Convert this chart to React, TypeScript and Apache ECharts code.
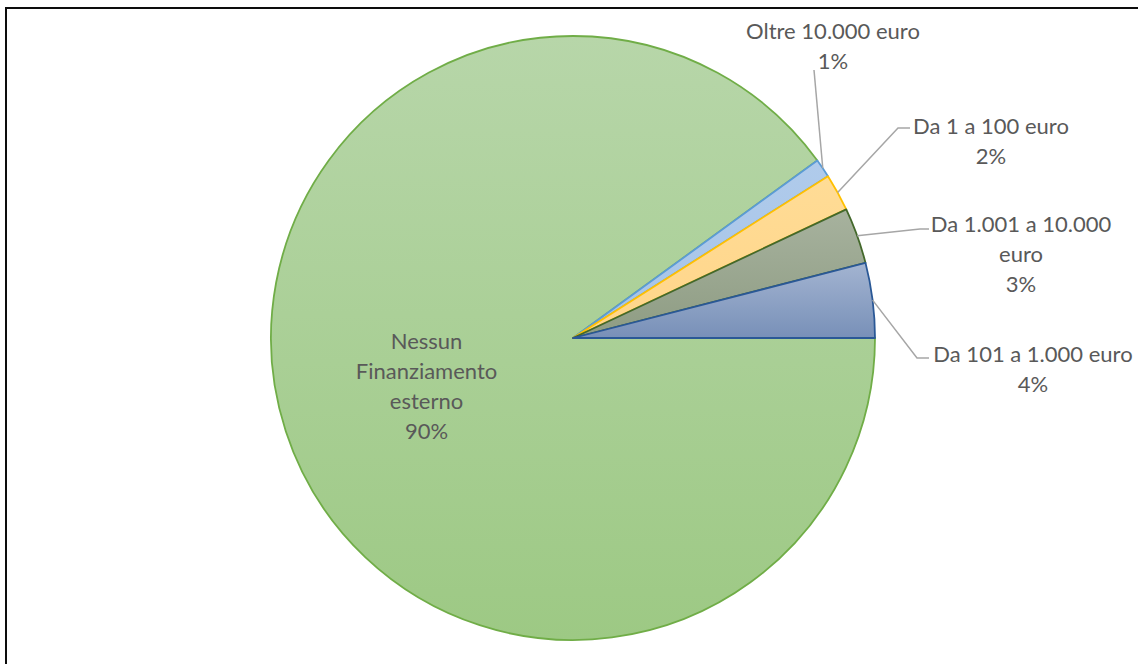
import React, { useEffect, useRef } from "react";
import * as echarts from "echarts";

// Data (clockwise from 3 o'clock)
const categories = [
  "Nessun Finanziamento esterno",
  "Oltre 10.000 euro",
  "Da 1 a 100 euro",
  "Da 1.001 a 10.000 euro",
  "Da 101 a 1.000 euro",
];
const values = [90, 1, 2, 3, 4];
const labelText = [
  "Nessun\nFinanziamento\nesterno",
  "Oltre 10.000 euro",
  "Da 1 a 100 euro",
  "Da 1.001 a 10.000\neuro",
  "Da 101 a 1.000 euro",
];

// Styles
const fillTop = ["#b7d6a9", "#b0cbeb", "#ffdc96", "#a7b29e", "#a3b4d1"];
const fillBottom = ["#9dc984", "#a6c4e8", "#ffd589", "#8e9c83", "#7890b8"];
const borders = ["#70ad47", "#5b9bd5", "#ffc000", "#43682b", "#2a5896"];

// Layout
const CX = 573;
const CY = 338;
const R = 302;
const FONT_SIZE = 22;
const FONT_FAMILY = 'Lato, "Noto Sans", sans-serif';
const TEXT_COLOR = "#595959";
const LINE_H = 30;
// outside label anchors (center of text block) and leader bends, for slices 1..4
const outLabels: Record<number, { x: number; y: number; bend: [number, number] | null; end: [number, number] }> = {
  1: { x: 833, y: 45, bend: null, end: [814, 70] },
  2: { x: 991, y: 140, bend: [898, 128], end: [910, 128] },
  3: { x: 1021, y: 253, bend: [920, 229], end: [929, 229] },
  4: { x: 1033, y: 368, bend: [917, 358], end: [929, 358] },
};

export default function App() {
  const ref = useRef<HTMLDivElement>(null);
  useEffect(() => {
    if (!ref.current) return;
    const chart = echarts.init(ref.current, null, { renderer: "svg" });
    const total = values.reduce((a, b) => a + b, 0);

    const graphics: any[] = [
      {
        type: "rect",
        shape: { x: 6, y: 8, width: 1300, height: 800 },
        style: { fill: "none", stroke: "#0d0d0d", lineWidth: 2 },
        z: 100,
      },
    ];

    let cum = 0;
    values.forEach((v, i) => {
      const midFrac = (cum + v / 2) / total;
      cum += v;
      const cfg = outLabels[i];
      if (!cfg) return;
      // clockwise from 3 o'clock
      const ang = midFrac * 2 * Math.PI;
      const sx = CX + R * Math.cos(ang);
      const sy = CY + R * Math.sin(ang);
      const pts: number[][] = [[sx, sy]];
      if (cfg.bend) pts.push(cfg.bend);
      pts.push(cfg.end);
      graphics.push({
        type: "polyline",
        shape: { points: pts },
        style: { stroke: "#a6a6a6", lineWidth: 1.5, fill: "none" },
        z: 50,
      });
      graphics.push({
        type: "text",
        style: {
          text: `${labelText[i]}\n${Math.round((v / total) * 100)}%`,
          x: cfg.x,
          y: cfg.y,
          align: "center",
          verticalAlign: "middle",
          fontSize: FONT_SIZE,
          fontFamily: FONT_FAMILY,
          fill: TEXT_COLOR,
          lineHeight: LINE_H,
        },
        z: 50,
      });
    });

    chart.setOption({
      animation: false,
      backgroundColor: "#ffffff",
      graphic: graphics,
      series: [
        {
          type: "pie",
          center: [CX, CY],
          radius: R,
          startAngle: 0,
          clockwise: true,
          avoidLabelOverlap: false,
          data: values.map((v, i) => ({
            name: categories[i],
            value: v,
            itemStyle: {
              color: new echarts.graphic.LinearGradient(0, 0, 0, 1, [
                { offset: 0, color: fillTop[i] },
                { offset: 1, color: fillBottom[i] },
              ]),
              borderColor: borders[i],
              borderWidth: 1.8,
            },
            label:
              i === 0
                ? {
                    show: true,
                    position: "inner",
                    formatter: () => `${labelText[0]}\n${Math.round((v / total) * 100)}%`,
                    fontFamily: FONT_FAMILY,
                    fontSize: FONT_SIZE,
                    color: TEXT_COLOR,
                    lineHeight: LINE_H,
                    align: "center",
                  }
                : { show: false },
            labelLine: { show: false },
          })),
          emphasis: { disabled: true },
        },
      ],
    });
    return () => chart.dispose();
  }, []);
  return (
    <div
      ref={ref}
      style={{ position: "fixed", left: 0, top: 0, width: 1138, height: 664 }}
    />
  );
}
